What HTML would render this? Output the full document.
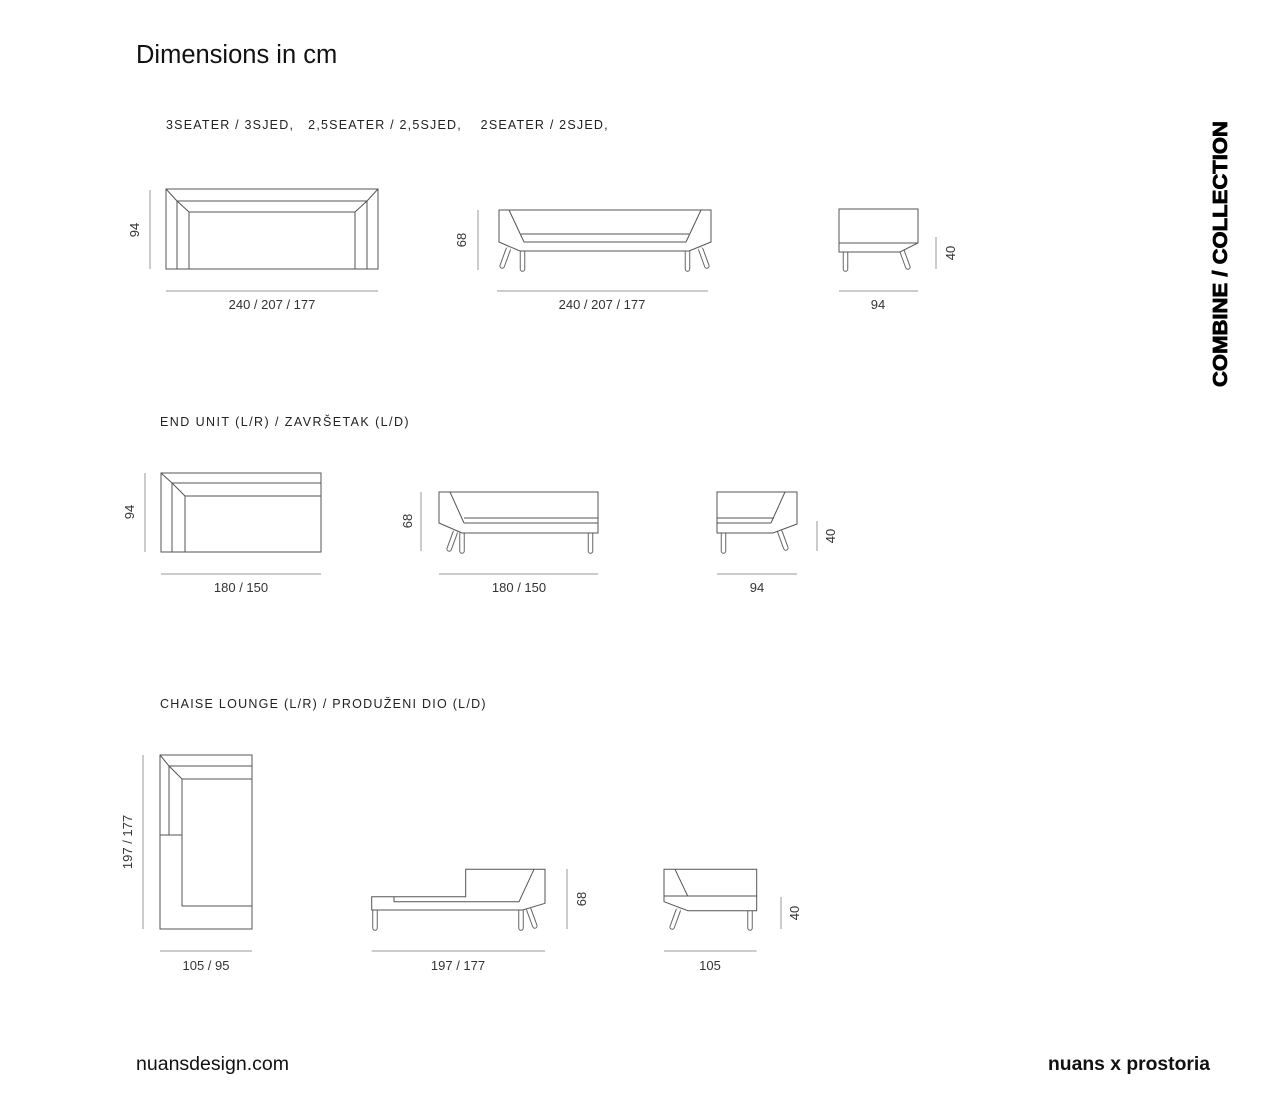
<!DOCTYPE html>
<html><head><meta charset="utf-8"><style>
html,body{margin:0;padding:0;background:#fff;}
svg{display:block;}
.d{fill:none;stroke:#555;stroke-width:1;}
.m{fill:none;stroke:#9a9a9a;stroke-width:1;}
.t{font-family:"Liberation Sans",sans-serif;font-size:13px;fill:#333;}
.h{font-family:"Liberation Sans",sans-serif;font-size:12.5px;fill:#222;letter-spacing:1.4px;white-space:pre;}
</style></head><body>
<svg width="1280" height="1113" viewBox="0 0 1280 1113" xmlns="http://www.w3.org/2000/svg" xml:space="preserve">
<defs>
<g id="legv"><line x1="0" y1="0" x2="0" y2="17" stroke="#666" stroke-width="5.5" stroke-linecap="round"/><line x1="0" y1="-1" x2="0" y2="17" stroke="#fff" stroke-width="3.5" stroke-linecap="round"/></g>
</defs>
<text x="136" y="63" font-family="Liberation Sans, sans-serif" font-size="25.5" fill="#111">Dimensions in cm</text>
<text class="h" x="166" y="129" textLength="443" lengthAdjust="spacing">3SEATER / 3SJED,   2,5SEATER / 2,5SJED,    2SEATER / 2SJED,</text>
<text class="h" x="160" y="426" textLength="250" lengthAdjust="spacing">END UNIT (L/R) / ZAVRŠETAK (L/D)</text>
<text class="h" x="160" y="708" textLength="327" lengthAdjust="spacing">CHAISE LOUNGE (L/R) / PRODUŽENI DIO (L/D)</text>
<text transform="translate(1227,387) rotate(-90)" font-family="Liberation Sans, sans-serif" font-weight="900" font-size="20" fill="#000" stroke="#000" stroke-width="0.8" textLength="266" lengthAdjust="spacingAndGlyphs">COMBINE / COLLECTION</text>
<text x="136" y="1070" font-family="Liberation Sans, sans-serif" font-size="19" fill="#111" textLength="153" lengthAdjust="spacingAndGlyphs">nuansdesign.com</text>
<text x="1048" y="1070" font-family="Liberation Sans, sans-serif" font-weight="bold" font-size="19" fill="#111" textLength="162" lengthAdjust="spacingAndGlyphs">nuans x prostoria</text>

<!-- ROW 1 top -->
<rect class="d" x="166" y="189" width="212" height="80"/>
<path class="d" d="M166 189 L177 201 L189 212 M378 189 L367 201 L355 212 M177 201 H367 M189 212 H355 M177 201 V269 M189 212 V269 M367 201 V269 M355 212 V269"/>
<line class="m" x1="150" y1="190" x2="150" y2="269"/>
<text class="t" transform="translate(139,230) rotate(-90)" text-anchor="middle">94</text>
<line class="m" x1="166" y1="291" x2="378" y2="291"/>
<text class="t" x="272" y="309" text-anchor="middle">240 / 207 / 177</text>

<!-- ROW 1 side -->
<use href="#legv" transform="translate(508,250) rotate(20)"/>
<use href="#legv" transform="translate(522.5,252)"/>
<use href="#legv" transform="translate(687.5,252)"/>
<use href="#legv" transform="translate(701,250) rotate(-20)"/>
<path class="d" style="fill:#fff" d="M499 210 H711 V242 L689 251 H520 L499 242 Z"/>
<path class="d" d="M509 210 L524 242 M701 210 L686 242 M521 234 H689 M524 242 H686"/>
<line class="m" x1="478" y1="210" x2="478" y2="270"/>
<text class="t" transform="translate(466,240) rotate(-90)" text-anchor="middle">68</text>
<line class="m" x1="497" y1="291" x2="708" y2="291"/>
<text class="t" x="602" y="309" text-anchor="middle">240 / 207 / 177</text>

<!-- ROW 1 armchair -->
<use href="#legv" transform="translate(845.5,252)"/>
<use href="#legv" transform="translate(902,251) rotate(-20)"/>
<path class="d" style="fill:#fff" d="M839 209 H918 V243 L900 252 H839 Z"/>
<path class="d" d="M839 243 H918"/>
<line class="m" x1="936" y1="237" x2="936" y2="269"/>
<text class="t" transform="translate(955,253) rotate(-90)" text-anchor="middle">40</text>
<line class="m" x1="839" y1="291" x2="918" y2="291"/>
<text class="t" x="878" y="309" text-anchor="middle">94</text>

<!-- ROW 2 top -->
<rect class="d" x="161" y="473" width="160" height="79"/>
<path class="d" d="M161 473 L172 483 L185 496 M172 483 H321 M185 496 H321 M172 483 V552 M185 496 V552"/>
<line class="m" x1="145" y1="473" x2="145" y2="552"/>
<text class="t" transform="translate(134,512) rotate(-90)" text-anchor="middle">94</text>
<line class="m" x1="161" y1="574" x2="321" y2="574"/>
<text class="t" x="241" y="592" text-anchor="middle">180 / 150</text>

<!-- ROW 2 side -->
<use href="#legv" transform="translate(455,533) rotate(20)"/>
<use href="#legv" transform="translate(462,534)"/>
<use href="#legv" transform="translate(590.5,534)"/>
<path class="d" style="fill:#fff" d="M439 492 H598 V533 H462 L439 523 Z"/>
<path class="d" d="M450 492 L464 523 M464 518 H598 M464 523 H598"/>
<line class="m" x1="421" y1="492" x2="421" y2="551"/>
<text class="t" transform="translate(412,521) rotate(-90)" text-anchor="middle">68</text>
<line class="m" x1="439" y1="574" x2="598" y2="574"/>
<text class="t" x="519" y="592" text-anchor="middle">180 / 150</text>

<!-- ROW 2 end -->
<use href="#legv" transform="translate(723.5,534)"/>
<use href="#legv" transform="translate(780,532) rotate(-20)"/>
<path class="d" style="fill:#fff" d="M717 492 H797 V524 L773 533 H717 Z"/>
<path class="d" d="M785 492 L771 523 M717 518 H774 M717 523 H771"/>
<line class="m" x1="817" y1="521" x2="817" y2="551"/>
<text class="t" transform="translate(835,536) rotate(-90)" text-anchor="middle">40</text>
<line class="m" x1="717" y1="574" x2="797" y2="574"/>
<text class="t" x="757" y="592" text-anchor="middle">94</text>

<!-- ROW 3 top -->
<rect class="d" x="160" y="755" width="92" height="174"/>
<path class="d" d="M160 755 L169 766 L182 779 M169 766 H252 M182 779 H252 M169 766 V835 M160 835 H182 M182 779 V906 H252"/>
<line class="m" x1="143" y1="755" x2="143" y2="929"/>
<text class="t" transform="translate(132,842) rotate(-90)" text-anchor="middle">197 / 177</text>
<line class="m" x1="160" y1="951" x2="252" y2="951"/>
<text class="t" x="206" y="970" text-anchor="middle">105 / 95</text>

<!-- ROW 3 side -->
<use href="#legv" transform="translate(375,911)"/>
<use href="#legv" transform="translate(521,911)"/>
<use href="#legv" transform="translate(529,910) rotate(-20)"/>
<path class="d" style="fill:#fff" d="M371.7 896.7 H465.7 V869.3 H545 V903.3 L522.7 910 H371.7 Z"/>
<path class="d" d="M534 869.3 L519 901.7 H394 V896.7"/>
<line class="m" x1="567" y1="869" x2="567" y2="929"/>
<text class="t" transform="translate(586,899) rotate(-90)" text-anchor="middle">68</text>
<line class="m" x1="371.7" y1="951" x2="545" y2="951"/>
<text class="t" x="458" y="970" text-anchor="middle">197 / 177</text>

<!-- ROW 3 end -->
<use href="#legv" transform="translate(678,911) rotate(20)"/>
<use href="#legv" transform="translate(750,911)"/>
<path class="d" style="fill:#fff" d="M664 869.3 H756.7 V910.7 H688 L664 901.7 Z"/>
<path class="d" d="M664 896 H756.7 M675 869.3 L687.7 896"/>
<line class="m" x1="781" y1="897" x2="781" y2="929"/>
<text class="t" transform="translate(799,913) rotate(-90)" text-anchor="middle">40</text>
<line class="m" x1="664" y1="951" x2="756.7" y2="951"/>
<text class="t" x="710" y="970" text-anchor="middle">105</text>
</svg>
</body></html>
